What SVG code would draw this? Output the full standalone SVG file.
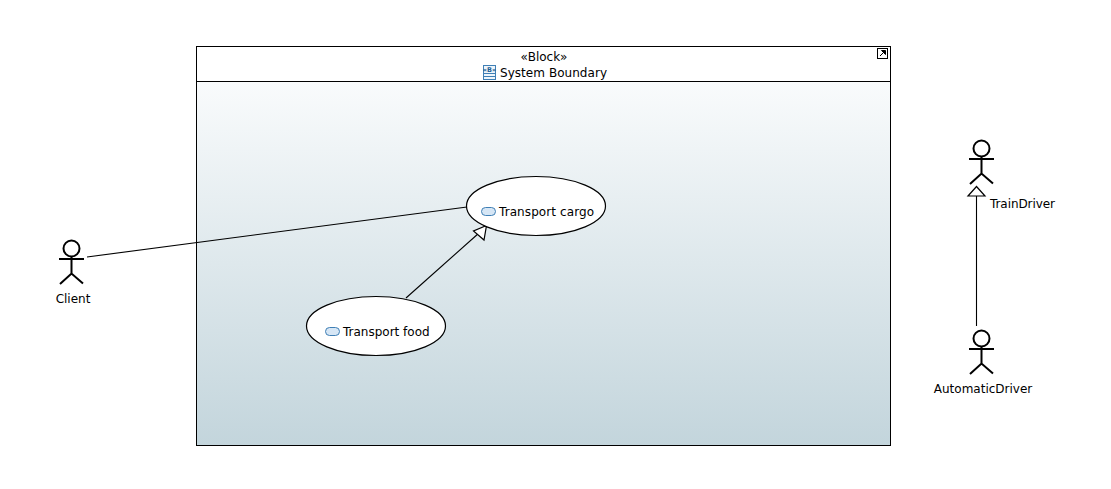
<svg xmlns="http://www.w3.org/2000/svg" width="1111" height="489" viewBox="0 0 1111 489">
<style>
text{font-family:"DejaVu Sans",sans-serif;font-size:12px;fill:#000}
.m{text-anchor:middle}
.l{fill:none;stroke:#000;stroke-width:1.100}
.a{fill:none;stroke:#000;stroke-width:2}
.u{fill:#fff;stroke:#000;stroke-width:1.200}
.i{fill:#d6e6f5;stroke:#3f7fb5;stroke-width:1}
</style>
<defs>
<linearGradient id="g" x1="0" y1="0" x2="0" y2="1"><stop offset="0" stop-color="#f9fbfc"/><stop offset="1" stop-color="#c3d5dc"/></linearGradient>
<g id="actor"><circle cx="0" cy="0" r="8" class="a"/><path d="M-12.500 10.500H12.500M0 8V25M-11.500 35.500L0 25L11.500 35" class="a"/></g>
</defs>
<rect width="1111" height="489" fill="#fff"/>
<g id="boundary">
<rect x="196.500" y="46.500" width="694" height="399" fill="#fff" stroke="#000"/>
<rect x="197" y="82" width="693" height="363" fill="url(#g)"/>
<path d="M196.500 81.500H890.500" stroke="#000" fill="none"/>
<text class="m" x="544" y="61">«Block»</text>
<g><rect x="483.500" y="65.500" width="12" height="14" fill="#eef5fb" stroke="#3f7fb5"/><path d="M483.500 73.500H495.500M483.500 76.500H495.500" stroke="#3f7fb5" fill="none"/><text class="m" x="489.500" y="72" style="font-size:6.500px;font-weight:bold;fill:#1f5f95">«B»</text></g>
<text x="500" y="77" textLength="107">System Boundary</text>
<rect x="877.500" y="48.500" width="10" height="10" fill="#fff" stroke="#000"/>
<path d="M880 56L885 51M881.500 50.500H885.500V54.500Z" stroke="#000" fill="#000"/>
</g>
<g id="connectors">
<path class="l" d="M87 257L467 207"/>
<path class="l" d="M406 298L479 233"/>
<path class="u" d="M486.500 225.500L473.500 231L484 240Z"/>
<path class="l" d="M976.500 326V196"/>
<path class="u" d="M976.500 186.500L968 196H985Z"/>
</g>
<g id="transport-cargo">
<ellipse cx="536" cy="206" rx="69.500" ry="29.500" class="u"/>
<rect x="481.500" y="207.500" width="14" height="8" rx="4" class="i"/>
<text x="499" y="216" textLength="95">Transport cargo</text>
</g>
<g id="transport-food">
<ellipse cx="376" cy="326" rx="69.500" ry="29.500" class="u"/>
<rect x="325.500" y="327.500" width="14" height="8" rx="4" class="i"/>
<text x="343" y="336">Transport food</text>
</g>
<g id="client"><use href="#actor" x="71.500" y="248.500"/><text class="m" x="73" y="303">Client</text></g>
<g id="train-driver"><use href="#actor" x="981.500" y="148.500"/><text x="990" y="208" textLength="65">TrainDriver</text></g>
<g id="automatic-driver"><use href="#actor" x="981.500" y="338.500"/><text class="m" x="983" y="393">AutomaticDriver</text></g>
</svg>
